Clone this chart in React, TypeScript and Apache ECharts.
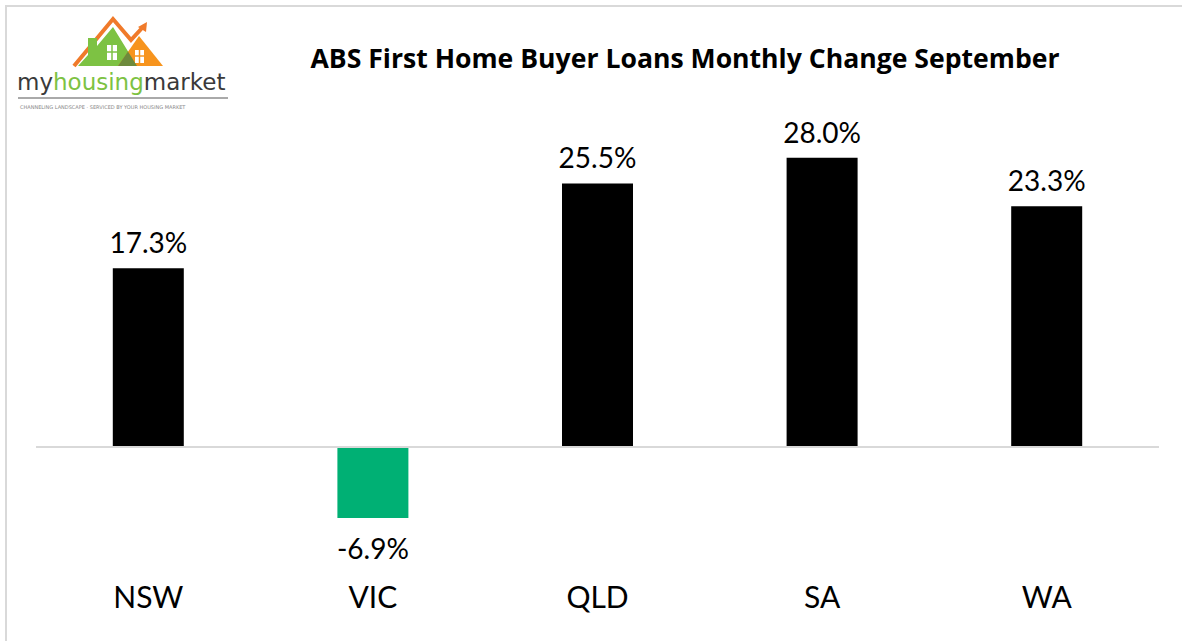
import React, { useEffect, useRef } from "react";
import * as echarts from "echarts";

const categories = ["NSW", "VIC", "QLD", "SA", "WA"];
const values = [17.3, -6.9, 25.5, 28.0, 23.3];
const titleText = "ABS First Home Buyer Loans Monthly Change September";

const FONT = "Lato, 'Open Sans', sans-serif";

export default function App() {
  const ref = useRef<HTMLDivElement>(null);
  useEffect(() => {
    if (!ref.current) return;
    const chart = echarts.init(ref.current, null, { renderer: "svg" });
    chart.setOption({
      animation: false,
      backgroundColor: "#ffffff",
      title: {
        text: titleText,
        left: 680,
        top: 39,
        textAlign: "center",
        textStyle: { fontFamily: "'Open Sans', sans-serif", fontSize: 26.6, fontWeight: "bold", color: "#000000" },
      },
      grid: { left: 36, right: 23, top: 137, bottom: 91, containLabel: false },
      xAxis: {
        type: "category",
        data: categories,
        axisLine: { show: false, onZero: false },
        axisTick: { show: false },
        axisLabel: { fontFamily: FONT, fontSize: 30, color: "#000000", margin: 31 },
      },
      yAxis: {
        type: "value",
        min: -10,
        max: 30,
        show: false,
        splitLine: { show: false },
      },
      series: [
        {
          type: "bar",
          barWidth: 71,
          data: values.map((v) => ({
            value: v,
            itemStyle: { color: v < 0 ? "#00b074" : "#000000" },
            label: {
              position: v < 0 ? "bottom" : "top",
              distance: v < 0 ? 16 : 12,
            },
          })),
          label: {
            show: true,
            fontFamily: FONT,
            fontSize: 28,
            color: "#000000",
            formatter: (p: any) => p.value.toFixed(1) + "%",
          },
          markLine: {
            silent: true,
            symbol: "none",
            label: { show: false },
            lineStyle: { color: "#d9d9d9", width: 2, type: "solid" },
            data: [{ yAxis: 0 }],
          },
        },
      ],
      graphic: [
        {
          type: "rect",
          shape: { x: 6, y: 6, width: 1200, height: 660 },
          style: { fill: "none", stroke: "#d9d9d9", lineWidth: 2 },
          silent: true,
        },
        {
          type: "polyline",
          shape: { points: [[74, 66], [113, 19], [131, 40], [143, 27]] },
          style: { stroke: "#f07a2a", lineWidth: 4, fill: "none" },
        },
        {
          type: "polygon",
          shape: { points: [[138, 27], [147, 22], [146, 32]] },
          style: { fill: "#f07a2a" },
        },
        {
          type: "polygon",
          shape: { points: [[78, 66], [88, 55], [88, 38], [97, 38], [97, 46], [113, 27], [137, 66]] },
          style: { fill: "#7dc243" },
        },
        {
          type: "polygon",
          shape: { points: [[118, 66], [139, 36], [163, 66]] },
          style: { fill: "#f7941d" },
        },
        {
          type: "polygon",
          shape: { points: [[118, 66], [128, 51.6], [137, 66]] },
          style: { fill: "#6d8a3c" },
        },
        { type: "rect", shape: { x: 107, y: 45, width: 10, height: 15 }, style: { fill: "#ffffff" } },
        { type: "line", shape: { x1: 112, y1: 45, x2: 112, y2: 60 }, style: { stroke: "#7dc243", lineWidth: 1.5 } },
        { type: "line", shape: { x1: 107, y1: 52, x2: 117, y2: 52 }, style: { stroke: "#7dc243", lineWidth: 1.5 } },
        { type: "rect", shape: { x: 135, y: 50, width: 9, height: 13 }, style: { fill: "#ffffff" } },
        { type: "line", shape: { x1: 139.5, y1: 50, x2: 139.5, y2: 63 }, style: { stroke: "#f7941d", lineWidth: 1.5 } },
        { type: "line", shape: { x1: 135, y1: 56, x2: 144, y2: 56 }, style: { stroke: "#f7941d", lineWidth: 1.5 } },
        {
          type: "text",
          x: 17,
          y: 93,
          style: {
            text: "{a|my}{b|housing}{a|market}",
            textVerticalAlign: "bottom",
            rich: {
              a: { fontFamily: "'DejaVu Sans', sans-serif", fontSize: 23, fill: "#3a3a3a", fontWeight: "normal" },
              b: { fontFamily: "'DejaVu Sans', sans-serif", fontSize: 23, fill: "#7dc243", fontWeight: "normal" },
            },
          },
        },
        { type: "line", shape: { x1: 18, y1: 98, x2: 228, y2: 98 }, style: { stroke: "#555555", lineWidth: 1 } },
        {
          type: "text",
          x: 20,
          y: 107,
          style: {
            text: "CHANNELING LANDSCAPE · SERVICED BY YOUR HOUSING MARKET",
            fontFamily: "'DejaVu Sans', sans-serif",
            fontSize: 5,
            fill: "#888888",
            textVerticalAlign: "middle",
          },
        },
      ],
    });
    return () => chart.dispose();
  }, []);
  return (
    <div
      ref={ref}
      style={{ position: "fixed", left: 0, top: 0, width: 1182, height: 641 }}
    />
  );
}
